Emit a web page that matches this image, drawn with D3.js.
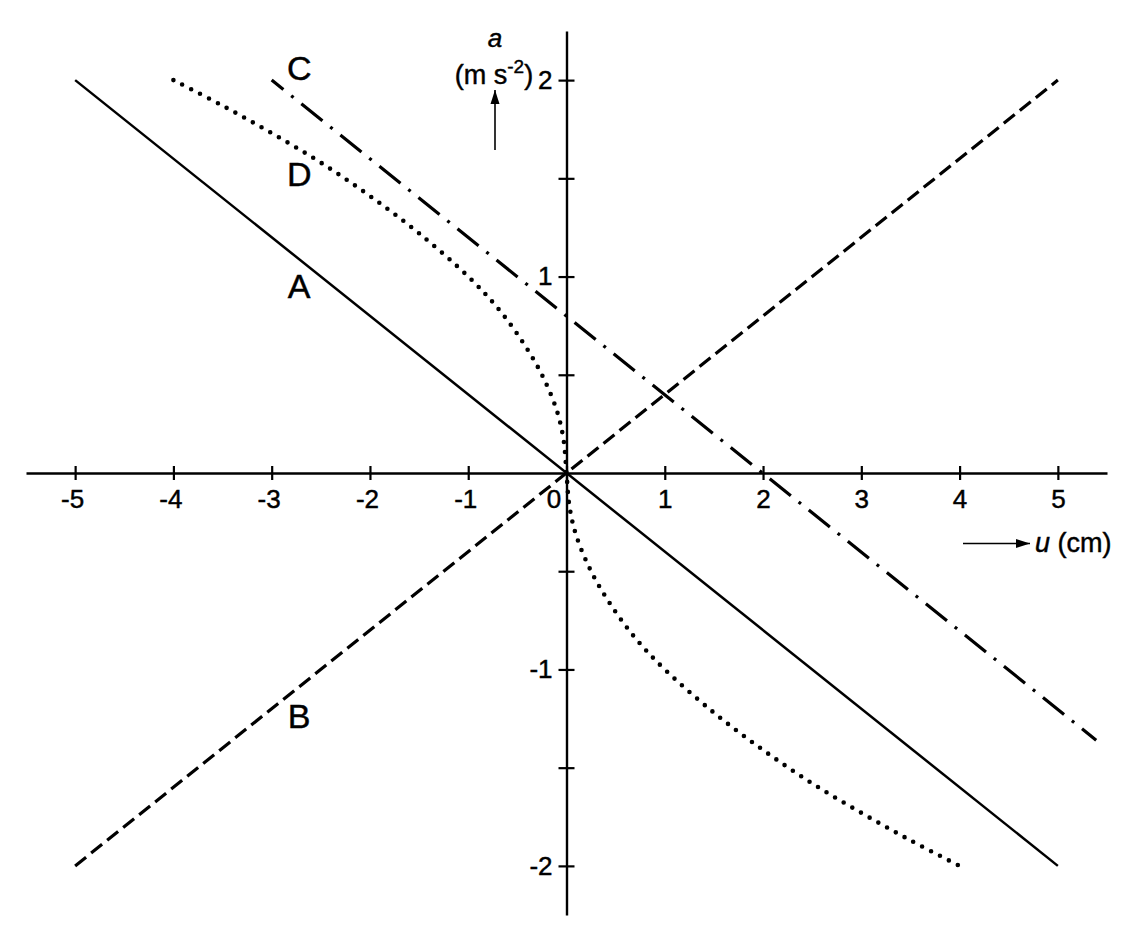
<!DOCTYPE html>
<html><head><meta charset="utf-8">
<script src="https://cdn.jsdelivr.net/npm/d3@7"></script>
<style>
body{margin:0;background:#fff;}
svg text{font-family:"Liberation Sans",Arial,Helvetica,sans-serif;fill:#000;stroke:#000;stroke-width:0.45px;}
</style></head>
<body><svg id="chart" width="1140" height="940"></svg>
<script>
// ---- data ----
const xTicks = [-5,-4,-3,-2,-1,0,1,2,3,4,5];
const yTicks = [-2,-1.5,-1,-0.5,0.5,1,1.5,2];
const yLabels = [-2,-1,1,2];
// line A (solid)
const aU = [-5, 5];
const aA = [2, -2];
// line B (dashed)
const bU = [-5, 5];
const bA = [-2, 2];
// line C (dash-dot)
const cU = [-3, 5.39];
const cA = [2, -1.36];
// curve D (dotted)
const dU = [-4,-3.5,-3,-2.5,-2,-1.5,-1,-0.7,-0.45,-0.25,-0.1,-0.03,0,0.03,0.1,0.25,0.45,0.7,1,1.5,2,2.5,3,3.5,4];
const dA = [2,1.87,1.73,1.58,1.41,1.22,1.0,0.84,0.67,0.5,0.32,0.17,0,-0.17,-0.32,-0.5,-0.67,-0.84,-1.0,-1.22,-1.41,-1.58,-1.73,-1.87,-2];
const curveLabels = [
  {t:"C", u:-2.72, a:2.0},
  {t:"D", u:-2.72, a:1.46},
  {t:"A", u:-2.72, a:0.89},
  {t:"B", u:-2.72, a:-1.30}
];

const svg = d3.select("#chart");
const x = d3.scaleLinear().domain([-5.5,5.5]).range([26,1107]);
const y = d3.scaleLinear().domain([-2.25,2.25]).range([915,31]);

// x axis
const gx = svg.append("g").attr("transform",`translate(0,${y(0)})`)
  .call(d3.axisBottom(x).tickValues(xTicks).tickSize(6).tickSizeOuter(0).tickFormat(d=>String(d)));
gx.select(".domain").attr("stroke","#000").attr("stroke-width",2.4);
gx.selectAll(".tick line").attr("y1",-7).attr("y2",7).attr("stroke-width",2.2);
gx.selectAll(".tick text").attr("font-size",26).attr("y",0).attr("dy","35px")
  .attr("font-family",'"Liberation Sans",Arial,sans-serif')
  .attr("dx",d=>d===0?-13:(d<0?-3:0));

// y axis
const gy = svg.append("g").attr("transform",`translate(${x(0)},0)`)
  .call(d3.axisLeft(y).tickValues(yTicks).tickSize(8).tickSizeOuter(0)
    .tickFormat(d=>yLabels.includes(d)?String(d):""));
gy.select(".domain").attr("stroke","#000").attr("stroke-width",2.4);
gy.selectAll(".tick line").attr("x1",-8).attr("x2",8).attr("stroke-width",2.2);
gy.selectAll(".tick text").attr("font-size",26).attr("x",-14)
  .attr("font-family",'"Liberation Sans",Arial,sans-serif');

const line = d3.line().x(d=>x(d[0])).y(d=>y(d[1]));

svg.append("path").datum(d3.zip(aU,aA)).attr("d",line)
  .attr("fill","none").attr("stroke","#000").attr("stroke-width",2.5);
svg.append("path").datum(d3.zip(bU,bA)).attr("d",line)
  .attr("fill","none").attr("stroke","#000").attr("stroke-width",3.2)
  .attr("stroke-dasharray","14 6.5");
svg.append("path").datum(d3.zip(cU,cA)).attr("d",line)
  .attr("fill","none").attr("stroke","#000").attr("stroke-width",3.2)
  .attr("stroke-dasharray","27 10 3 10").attr("stroke-dashoffset",12);
svg.append("path").datum(d3.zip(dU,dA)).attr("d",line.curve(d3.curveCatmullRom.alpha(0.5)))
  .attr("fill","none").attr("stroke","#000").attr("stroke-width",4.6)
  .attr("stroke-linecap","round").attr("stroke-dasharray","0 10");

// curve labels
svg.selectAll("text.lbl").data(curveLabels).join("text").attr("class","lbl")
  .attr("x",d=>x(d.u)).attr("y",d=>y(d.a)).attr("text-anchor","middle")
  .attr("font-size",34).text(d=>d.t);

// y axis title
svg.append("text").attr("x",495).attr("y",47).attr("text-anchor","middle")
  .attr("font-size",26).attr("font-style","italic").text("a");
const ut = svg.append("text").attr("x",494).attr("y",84).attr("text-anchor","middle").attr("font-size",27);
ut.append("tspan").text("(m s");
ut.append("tspan").attr("dy",-11).attr("font-size",19).text("-2");
ut.append("tspan").attr("dy",11).text(")");
// arrows
function arrow(x1,y1,x2,y2){
  svg.append("line").attr("x1",x1).attr("y1",y1).attr("x2",x2).attr("y2",y2)
    .attr("stroke","#000").attr("stroke-width",1.6);
  const ang=Math.atan2(y2-y1,x2-x1), L=14, W=4.5;
  const p=[[x2,y2],
    [x2-L*Math.cos(ang)+W*Math.sin(ang), y2-L*Math.sin(ang)-W*Math.cos(ang)],
    [x2-L*Math.cos(ang)-W*Math.sin(ang), y2-L*Math.sin(ang)+W*Math.cos(ang)]];
  svg.append("path").attr("d","M"+p.join("L")+"Z").attr("fill","#000");
}
arrow(495,150,495,90);
arrow(963,543.5,1030,543.5);
const xt = svg.append("text").attr("x",1035).attr("y",552).attr("font-size",27);
xt.append("tspan").attr("font-style","italic").text("u");
xt.append("tspan").text(" (cm)");
</script></body></html>
